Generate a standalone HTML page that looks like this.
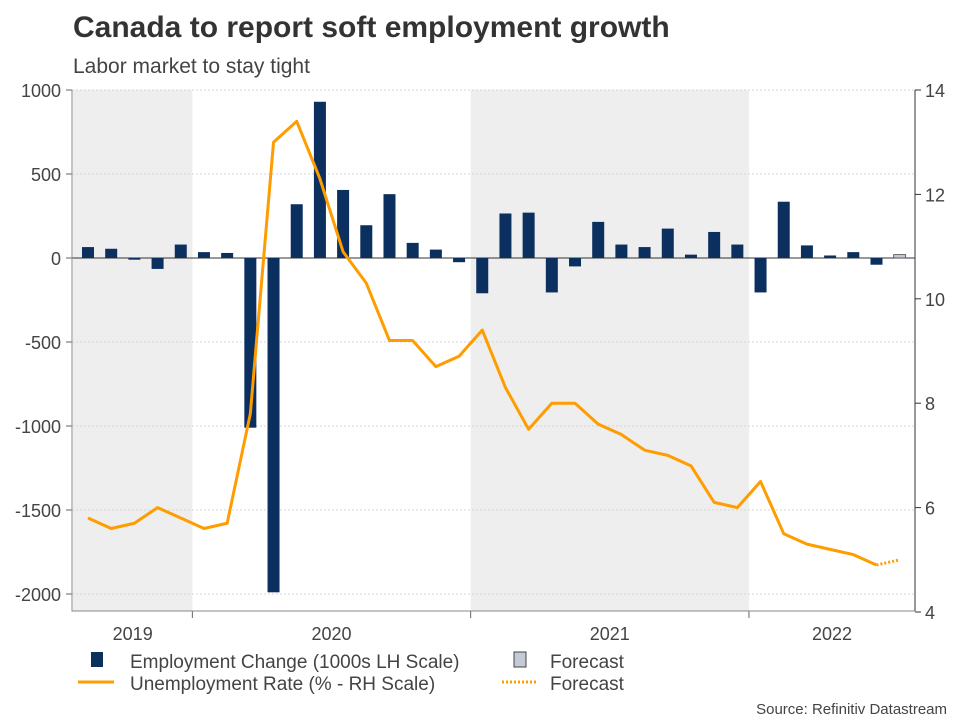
<!DOCTYPE html>
<html><head><meta charset="utf-8"><style>
body{margin:0;background:#fff;font-family:"Liberation Sans",Arial,sans-serif}
</style></head><body>
<svg id="c" width="960" height="720" xmlns="http://www.w3.org/2000/svg" font-family="Liberation Sans, Arial, sans-serif">
<text x="73" y="37" font-size="30" font-weight="bold" fill="#333">Canada to report soft employment growth</text>
<text x="73" y="73" font-size="21" fill="#444">Labor market to stay tight</text>
<g id="plot"></g>
<g font-size="19" fill="#444">
<rect x="91" y="652" width="12" height="15" fill="#0b2f5f"/>
<text x="130" y="668">Employment Change (1000s LH Scale)</text>
<rect x="514" y="652" width="12" height="15" fill="#c3ccd6" stroke="#444"/>
<text x="550" y="668">Forecast</text>
<line x1="78" y1="682" x2="114" y2="682" stroke="#ff9c00" stroke-width="3"/>
<text x="130" y="690">Unemployment Rate (% - RH Scale)</text>
<line x1="502" y1="682" x2="538" y2="682" stroke="#ff9c00" stroke-width="3" stroke-dasharray="2,2"/>
<text x="550" y="690">Forecast</text>
</g>
<text x="947" y="714" font-size="15" fill="#444" text-anchor="end">Source: Refinitiv Datastream</text>
</svg>
<script>
const years=["2019","2020","2021","2022"];
const yearMonths=[5,12,12,7];
const employment=[65,55,-10,-65,80,35,30,-1010,-1990,320,930,405,195,380,90,50,-25,-210,265,270,-205,-50,215,80,65,175,20,155,80,-205,335,75,15,35,-40,20];
const unemployment=[5.8,5.6,5.7,6.0,5.8,5.6,5.7,7.8,13.0,13.4,12.3,10.9,10.3,9.2,9.2,8.7,8.9,9.4,8.3,7.5,8.0,8.0,7.6,7.4,7.1,7.0,6.8,6.1,6.0,6.5,5.5,5.3,5.2,5.1,4.9,5.0];
const leftTicks=[1000,500,0,-500,-1000,-1500,-2000];
const rightTicks=[14,12,10,8,6,4];
const forecastCount=1;
const NS="http://www.w3.org/2000/svg";
const g=document.getElementById('plot');
const X0=72,X1=915,Y0=90,Y1=611;
const n=employment.length;
const slot=(X1-X0)/(n+0.35);
const xc=i=>X0+16+i*slot;
const yL=v=>258+(0-v)*(84/500);
const yR=v=>90+(14-v)*52.2;
const ORANGE='#ff9c00';
function el(t,a){const e=document.createElementNS(NS,t);for(const k in a)e.setAttribute(k,a[k]);g.appendChild(e);return e;}
let start=0;
years.forEach((yr,j)=>{
 const xa=j==0?X0+1:xc(start)-slot/2, xb=j==years.length-1?X1:xc(start+yearMonths[j])-slot/2;
 if(j%2==0){const r=el('rect',{x:xa,y:Y0,width:xb-xa,height:Y1-Y0,fill:'#eeeeee'});
 
 }
 const t=el('text',{x:(xa+xb)/2,y:640,'font-size':18,fill:'#444','text-anchor':'middle'});t.textContent=yr;
 
 
 if(j>0){const tk=el('line',{x1:xa,x2:xa,y1:Y1,y2:618,stroke:'#666'});
 
 }
 start+=yearMonths[j];
});
leftTicks.forEach(v=>{
 const l=el('line',{x1:X0,x2:X1,y1:yL(v),y2:yL(v),stroke:v==0?'#333':'#d4d4d4','stroke-dasharray':v==0?'':'2,2'});
 
 
 const tk=el('line',{x1:66,x2:X0,y1:yL(v),y2:yL(v),stroke:'#666'});
 
 
 const t=el('text',{x:61,y:yL(v)+7,'font-size':18,fill:'#444','text-anchor':'end'});t.textContent=v;
 
 
});
rightTicks.forEach(v=>{
 const tk=el('line',{x1:X1,x2:921,y1:yR(v),y2:yR(v),stroke:'#333'});
 
 
 const t=el('text',{x:925,y:yR(v)+7,'font-size':18,fill:'#444'});t.textContent=v;
 
 
});
const ax=el('path',{d:`M${X0} ${Y0}V${Y1}H${X1}`,fill:'none',stroke:'#888'});


const ar=el('line',{x1:X1,x2:X1,y1:Y0,y2:Y1,stroke:'#333'});


const bw=12;
employment.forEach((v,i)=>{
 const fc=i>=n-forecastCount;
 const r=el('rect',{x:xc(i)-bw/2,y:Math.min(yL(v),yL(0)),width:bw,height:Math.abs(yL(v)-yL(0)),fill:fc?'#c3ccd6':'#0b2f5f',stroke:fc?'#444':'none','stroke-width':fc?0.8:0});
 
 
});
const pts=unemployment.map((v,i)=>[xc(i),yR(v)]);
const main=pts.slice(0,n-forecastCount);
const p1=el('polyline',{points:main.map(p=>p.join(',')).join(' '),fill:'none',stroke:ORANGE,'stroke-width':3,'stroke-linejoin':'round'});


const fp=pts.slice(n-forecastCount-1);
const p2=el('polyline',{points:fp.map(p=>p.join(',')).join(' '),fill:'none',stroke:ORANGE,'stroke-width':3,'stroke-dasharray':'2,2'});


</script>
</body></html>
